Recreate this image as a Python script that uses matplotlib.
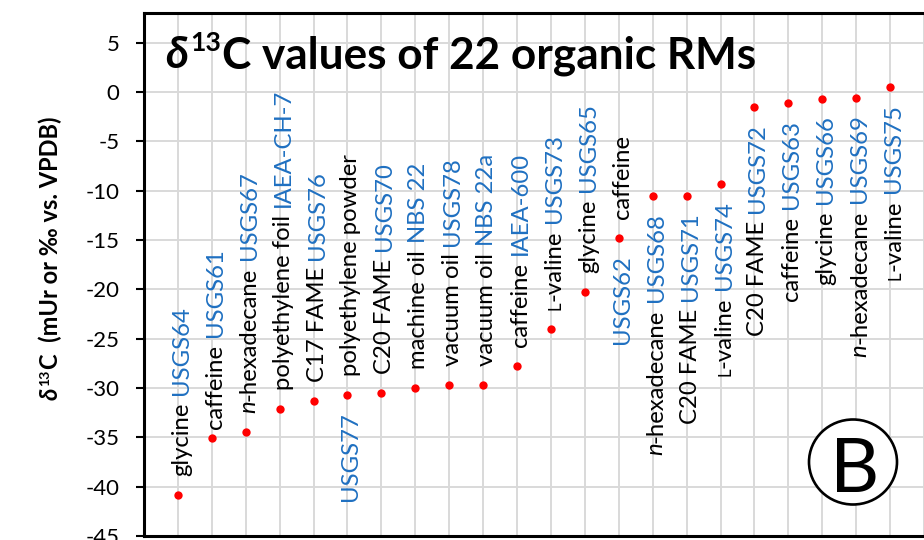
import matplotlib
matplotlib.use("Agg")
import matplotlib.pyplot as plt
from matplotlib.font_manager import FontProperties
from matplotlib.patches import Ellipse
from matplotlib.transforms import IdentityTransform

# ---------------- data ----------------
values = [-40.81, -35.05, -34.50, -32.15, -31.36, -30.71, -30.53, -30.03, -29.72,
          -29.72, -27.77, -24.03, -20.29, -14.79, -10.55, -10.50, -9.30, -1.54,
          -1.17, -0.67, -0.57, 0.49]
materials = ["glycine", "caffeine", "n-hexadecane", "polyethylene foil", "C17 FAME",
             "polyethylene powder", "C20 FAME", "machine oil", "vacuum oil", "vacuum oil",
             "caffeine", "L-valine", "glycine", "caffeine", "n-hexadecane", "C20 FAME",
             "L-valine", "C20 FAME", "caffeine", "glycine", "n-hexadecane", "L-valine"]
rm_names = ["USGS64", "USGS61", "USGS67", "IAEA-CH-7", "USGS76", "USGS77", "USGS70",
            "NBS 22", "USGS78", "NBS 22a", "IAEA-600", "USGS73", "USGS65", "USGS62",
            "USGS68", "USGS71", "USGS74", "USGS72", "USGS63", "USGS66", "USGS69", "USGS75"]
label_side = (["above"] * 5 + ["split"] + ["above"] * 7 + ["split"] + ["below"] * 8)
y_ticks = [-45, -40, -35, -30, -25, -20, -15, -10, -5, 0, 5]
title_parts = ["\u03b4", "13", "C values of 22 organic RMs"]
ylabel_parts = ["\u03b4", "13", "C  (mUr or \u2030 vs. VPDB)"]
panel_letter = "B"

# ---------------- style ----------------
W, H, DPI = 924, 540, 100
FAM = ["Lato", "DejaVu Sans"]
plt.rcParams["font.family"] = FAM
BLUE = "#1F70C1"
RED = "#FF0000"
LAB_SIZE = 17.2

fig = plt.figure(figsize=(W / DPI, H / DPI), dpi=DPI)
ax = fig.add_axes([144 / W, 4 / H, 1 - 144 / W, 523 / H])
ax.set_xlim(0, 780 / 34.1)
ax.set_ylim(-45, 8)

xs = list(range(1, len(values) + 1))
ax.plot(xs, values, "o", color=RED, ms=6, mec="none", zorder=5, clip_on=False)

ax.set_xticks(range(0, 24))
ax.tick_params(axis="x", length=0, labelbottom=False)
ax.set_yticks(y_ticks)
ax.set_yticklabels([str(t) for t in y_ticks])
ax.tick_params(axis="y", length=5.8, width=1.5, pad=12, labelsize=16, direction="out")
ax.grid(True, color="#D9D9D9", lw=1.4)
ax.set_axisbelow(True)
for s in ["left", "top", "bottom"]:
    ax.spines[s].set_linewidth(2.2)
    ax.spines[s].set_color("black")
ax.spines["right"].set_visible(False)

fig.canvas.draw()
renderer = fig.canvas.get_renderer()


def fprop(size, weight="normal", style="normal"):
    return FontProperties(family=FAM, size=size, weight=weight, style=style)


def text_w(s, fp):
    w, h, d = renderer.get_text_width_height_descent(s, fp, ismath=False)
    return w


def put(x, y, s, fp, color="black", rotation=0):
    fig.text(x / W, y / H, s, fontproperties=fp, color=color, rotation=rotation,
             rotation_mode="anchor", ha="left", va="baseline", zorder=6)


def material_segments(name):
    base = fprop(LAB_SIZE)
    if name.startswith("n-"):
        return [("n", fprop(LAB_SIZE, style="italic"), "black"),
                (name[1:], base, "black")]
    if name.startswith("L-"):
        return [("L", fprop(LAB_SIZE * 0.7), "black"),
                (name[1:], base, "black")]
    return [(name, base, "black")]


def seg_len(segs):
    return sum(text_w(s, fp) for s, fp, c in segs)


def draw_vertical(xb, ystart, segs):
    y = ystart
    for s, fp, c in segs:
        put(xb, y, s, fp, color=c, rotation=90)
        y += text_w(s, fp)
    return y


space_px = 0.32 * LAB_SIZE * DPI / 72
gap_up = 19
gap_down = 17
special_gap = {1: 9}

for i, (xv, yv) in enumerate(zip(xs, values)):
    xd, yd = ax.transData.transform((xv, yv))
    xb = xd + 10
    mat = material_segments(materials[i])
    rm = [(rm_names[i], fprop(LAB_SIZE), BLUE)]
    side = label_side[i]
    g_up = special_gap.get(i, gap_up)
    if side == "above":
        y_end = draw_vertical(xb, yd + g_up, mat)
        draw_vertical(xb, y_end + space_px, rm)
    elif side == "below":
        total = seg_len(mat) + space_px + seg_len(rm)
        y_end = draw_vertical(xb, yd - gap_down - total, mat)
        draw_vertical(xb, y_end + space_px, rm)
    else:
        draw_vertical(xb, yd + g_up, mat)
        draw_vertical(xb, yd - gap_down - seg_len(rm), rm)

# ---------------- title ----------------
TS = 31.8
fp_d = fprop(TS, "bold", "italic")
fp_s = fprop(TS * 0.6, "bold")
fp_m = fprop(TS, "bold")
tx, ty = 165, H - 68
put(tx, ty, title_parts[0], fp_d)
tx += text_w(title_parts[0], fp_d) + 2
put(tx, ty + 17, title_parts[1], fp_s)
tx += text_w(title_parts[1], fp_s) + 1
put(tx, ty, title_parts[2], fp_m)

# ---------------- y label ----------------
YS = 17
fy_d = fprop(YS, "bold", "italic")
fy_s = fprop(YS * 0.6, "bold")
fy_m = fprop(YS, "bold")
total = (text_w(ylabel_parts[0], fy_d) + 1 + text_w(ylabel_parts[1], fy_s) + 1
         + text_w(ylabel_parts[2], fy_m))
xb = 58
y = (H - 258) - total / 2
put(xb, y, ylabel_parts[0], fy_d, rotation=90)
y += text_w(ylabel_parts[0], fy_d) + 1
put(xb - 9, y, ylabel_parts[1], fy_s, rotation=90)
y += text_w(ylabel_parts[1], fy_s) + 1
put(xb, y, ylabel_parts[2], fy_m, rotation=90)

# ---------------- panel letter ----------------
fig.add_artist(Ellipse((853, H - 462), 88, 85, transform=IdentityTransform(),
                       fc="white", ec="black", lw=1.9, zorder=4))
fig.text(855 / W, (H - 492) / H, panel_letter, fontproperties=fprop(55),
         ha="center", va="baseline", zorder=7)

fig.savefig("out.png", dpi=DPI)
